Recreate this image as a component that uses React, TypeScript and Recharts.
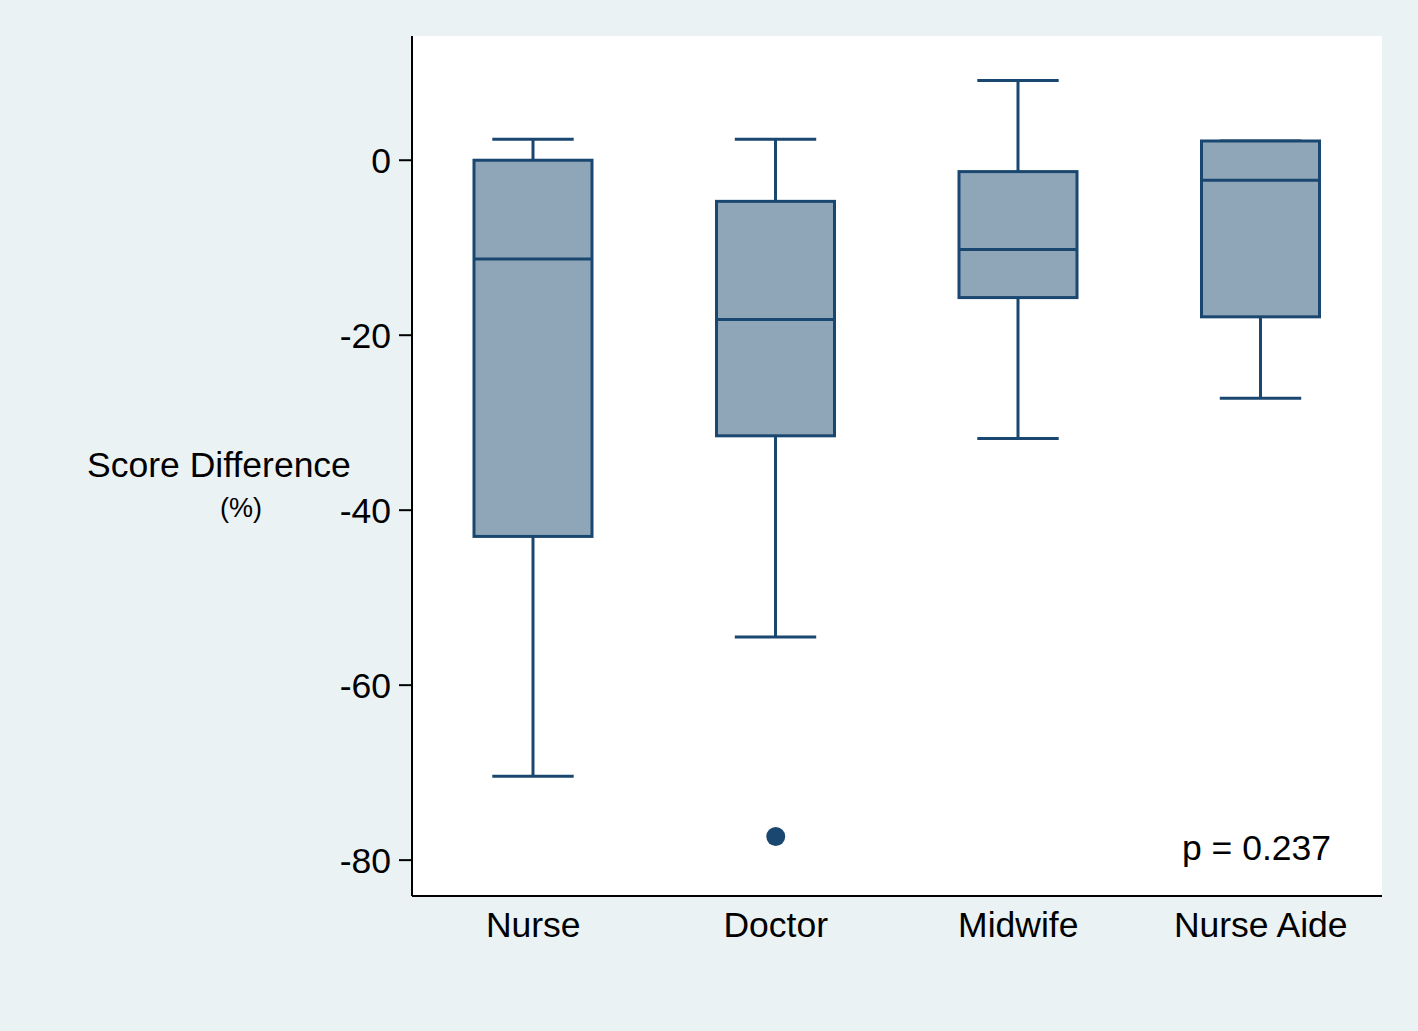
import React from "react";
import { ComposedChart, Bar, Scatter, XAxis, YAxis, CartesianGrid, Customized } from "recharts";

const groups = ["Nurse", "Doctor", "Midwife", "Nurse Aide"];
const whiskerLow = [-70.4, -54.5, -31.8, -27.2];
const q1 = [-43.0, -31.5, -15.7, -17.9];
const median = [-11.3, -18.2, -10.2, -2.3];
const q3 = [0.0, -4.7, -1.3, 2.2];
const whiskerHigh = [2.4, 2.4, 9.1, 2.2];
const outlierValues = [null, -77.3, null, null];
const yTicks = [-80, -60, -40, -20, 0];
const pText = "p = 0.237";

const data = groups.map((g, i) => ({
  group: g,
  min: whiskerLow[i],
  q1: q1[i],
  median: median[i],
  q3: q3[i],
  max: whiskerHigh[i],
  outlier: outlierValues[i],
}));

const NAVY = "#1a476f";
const FILL = "#8fa5b8";
const FONT = "'Liberation Sans', Arial, Helvetica, sans-serif";
const FS = 35.5;

const BoxShape = (props: any) => {
  const { x, y, width, height, payload } = props;
  if (payload == null || height == null) return null;
  const span = payload.max - payload.min;
  const px = (v: number) => y + ((payload.max - v) / span) * height;
  const cx = x + width / 2;
  const capHalf = width * 0.345;
  const yMax = px(payload.max);
  const yMin = px(payload.min);
  const yQ3 = px(payload.q3);
  const yQ1 = px(payload.q1);
  const yMed = px(payload.median);
  return (
    <g>
      <line x1={cx} x2={cx} y1={yMax} y2={yQ3} stroke={NAVY} strokeWidth={3} />
      <line x1={cx} x2={cx} y1={yQ1} y2={yMin} stroke={NAVY} strokeWidth={3} />
      <line x1={cx - capHalf} x2={cx + capHalf} y1={yMax} y2={yMax} stroke={NAVY} strokeWidth={3} />
      <line x1={cx - capHalf} x2={cx + capHalf} y1={yMin} y2={yMin} stroke={NAVY} strokeWidth={3} />
      <rect x={x} y={yQ3} width={width} height={yQ1 - yQ3} fill={FILL} stroke={NAVY} strokeWidth={3} />
      <line x1={x} x2={x + width} y1={yMed} y2={yMed} stroke={NAVY} strokeWidth={3} />
    </g>
  );
};

const Dot = (props: any) => {
  const { cx, cy, payload } = props;
  if (payload == null || payload.outlier == null || cx == null || cy == null || isNaN(cy)) return null;
  return <circle cx={cx} cy={cy} r={9.5} fill={NAVY} />;
};

const Labels = () => (
  <g fontFamily={FONT} fill="#000">
    <text x={219} y={477} textAnchor="middle" fontSize={FS}>Score Difference</text>
    <text x={241} y={517} textAnchor="middle" fontSize={27}>(%)</text>
    <text x={1182} y={860} textAnchor="start" fontSize={FS}>{pText}</text>
  </g>
);

export default function App() {
  return (
    <div style={{ position: "absolute", left: 0, top: 0, width: 1418, height: 1031, background: "#eaf2f3" }}>
      <ComposedChart
        width={1418}
        height={1031}
        data={data}
        margin={{ top: 36, right: 36, bottom: 105, left: 312 }}
      >
        <CartesianGrid fill="#ffffff" horizontal={false} vertical={false} />
        <XAxis
          dataKey="group"
          type="category"
          height={30}
          axisLine={{ stroke: "#000", strokeWidth: 2 }}
          tickLine={false}
          tickSize={0}
          tickMargin={16}
          tick={{ fontSize: FS, fill: "#000", fontFamily: FONT }}
          interval={0}
        />
        <YAxis
          type="number"
          domain={[-84.1, 14.2]}
          ticks={yTicks}
          allowDataOverflow
          width={100}
          axisLine={{ stroke: "#000", strokeWidth: 2 }}
          tickLine={{ stroke: "#000", strokeWidth: 2 }}
          tickSize={13}
          tickMargin={8}
          tick={{ fontSize: FS, fill: "#000", fontFamily: FONT }}
        />
        <Bar
          dataKey={(d: any) => [d.min, d.max]}
          barSize={118}
          shape={<BoxShape />}
          isAnimationActive={false}
        />
        <Scatter dataKey="outlier" shape={<Dot />} isAnimationActive={false} />
        <Customized component={Labels} />
      </ComposedChart>
    </div>
  );
}
